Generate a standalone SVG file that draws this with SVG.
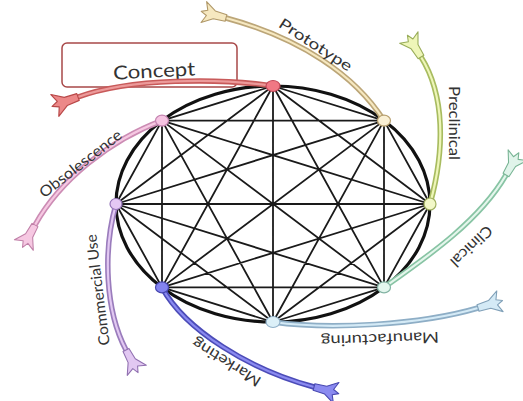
<svg xmlns="http://www.w3.org/2000/svg" xmlns:xlink="http://www.w3.org/1999/xlink" width="523" height="401" viewBox="0 0 523 401">
<style>
.chord{stroke:#1a1a1a;stroke-width:1.8;fill:none}
.rim{stroke:#111;stroke-width:3.2;fill:none}
.out{fill:none;stroke-width:5.5;stroke-linecap:round}
.in{fill:none;stroke-width:2.2;stroke-linecap:round}
.fl{stroke-width:0.8;stroke-linejoin:round}
.nd{stroke-width:1.2}
.lbl{font-family:"Lato","Open Sans",sans-serif;font-size:15px;fill:#333;text-anchor:middle;dominant-baseline:central}
</style>
<defs>
<path id="fl" d="M0,-2.5 L9,-3 L17,-8 L14.5,-2 L19,0 L14.5,2 L17,8 L9,3 L0,2.5 Z"/>
</defs>
<rect width="523" height="401" fill="#fff"/>
<g id="connectors">
<ellipse class="rim" cx="273" cy="204" rx="157" ry="118"/>
<path class="chord" d="M273,86L384,120.6M273,86L430,204M273,86L384,287.4M273,86L273,322M273,86L162,287.4M273,86L116,204M273,86L162,120.6
M384,120.6L430,204M384,120.6L384,287.4M384,120.6L273,322M384,120.6L162,287.4M384,120.6L116,204M384,120.6L162,120.6
M430,204L384,287.4M430,204L273,322M430,204L162,287.4M430,204L116,204M430,204L162,120.6
M384,287.4L273,322M384,287.4L162,287.4M384,287.4L116,204M384,287.4L162,120.6
M273,322L162,287.4M273,322L116,204M273,322L162,120.6
M162,287.4L116,204M162,287.4L162,120.6
M116,204L162,120.6"/>
</g>
<g id="concept">
<rect x="62" y="43" width="175" height="44" rx="5" fill="none" stroke="#a84848" stroke-width="1.5"/>
<text class="lbl" x="154" y="70" textLength="82" lengthAdjust="spacingAndGlyphs" transform="rotate(-3 154 70)" style="font-size:19px">Concept</text>
<path class="out" stroke="#c85a5a" d="M273,86 C220,78 130,78 78,97"/>
<path class="in" stroke="#ec9a9a" d="M273,86 C220,78 130,78 78,97"/>
<use href="#fl" class="fl" fill="#ec8888" stroke="#b84848" transform="translate(78,97) rotate(160) scale(1.45)"/>
<ellipse class="nd" cx="273" cy="86" rx="7" ry="5.5" fill="#f07884" stroke="#c04858"/>
</g>
<g id="prototype">
<path class="out" stroke="#bca678" d="M384,120.6 C355,75 300,38 226,18"/>
<path class="in" stroke="#f6e8c0" d="M384,120.6 C355,75 300,38 226,18"/>
<use href="#fl" class="fl" fill="#f6e8c0" stroke="#b09868" transform="translate(226,18) rotate(195) scale(1.35)"/>
<ellipse class="nd" cx="384" cy="120.6" rx="6.5" ry="5.5" fill="#faf0d4" stroke="#b8a070"/>
<text class="lbl" x="316" y="44" textLength="84" lengthAdjust="spacingAndGlyphs" transform="rotate(33 316 44)">Prototype</text>
</g>
<g id="preclinical">
<path class="out" stroke="#a8bc60" d="M430,204 C445,150 445,95 421,57"/>
<path class="in" stroke="#eef6b8" d="M430,204 C445,150 445,95 421,57"/>
<use href="#fl" class="fl" fill="#eef6b8" stroke="#98ac58" transform="translate(421,57) rotate(-122) scale(1.35)"/>
<ellipse class="nd" cx="430" cy="204" rx="6" ry="6" fill="#f2f8c8" stroke="#a0b060"/>
<text class="lbl" x="455" y="123" textLength="74" lengthAdjust="spacingAndGlyphs" transform="rotate(90 455 123)">Preclinical</text>
</g>
<g id="clinical">
<path class="out" stroke="#88c4a4" d="M384,287.4 C430,255 480,220 506,175"/>
<path class="in" stroke="#e4f6ec" d="M384,287.4 C430,255 480,220 506,175"/>
<use href="#fl" class="fl" fill="#e0f4ea" stroke="#78b494" transform="translate(506,175) rotate(-60) scale(1.35)"/>
<ellipse class="nd" cx="384" cy="287.4" rx="6.5" ry="5.5" fill="#e4f6ee" stroke="#84b4a4"/>
<text class="lbl" x="472" y="247" textLength="52" lengthAdjust="spacingAndGlyphs" transform="rotate(136 472 247)">Clinical</text>
</g>
<g id="manufacturing">
<path class="out" stroke="#8eaec6" d="M273,322 C330,330 420,325 478,308"/>
<path class="in" stroke="#d4eaf6" d="M273,322 C330,330 420,325 478,308"/>
<use href="#fl" class="fl" fill="#d4eaf6" stroke="#80a0b8" transform="translate(478,308) rotate(-17) scale(1.35)"/>
<ellipse class="nd" cx="273" cy="322" rx="7" ry="5.5" fill="#dcf0f8" stroke="#90b0c8"/>
<text class="lbl" x="380" y="340" textLength="118" lengthAdjust="spacingAndGlyphs" transform="rotate(178 380 340)">Manufacturing</text>
</g>
<g id="marketing">
<path class="out" stroke="#4c4cb8" d="M162,287.4 C185,330 250,370 314,387"/>
<path class="in" stroke="#8a8af0" d="M162,287.4 C185,330 250,370 314,387"/>
<use href="#fl" class="fl" fill="#8a8af0" stroke="#4848b0" transform="translate(314,387) rotate(15) scale(1.35)"/>
<ellipse class="nd" cx="162" cy="287.4" rx="6.5" ry="5.5" fill="#8484f0" stroke="#4848b0"/>
<text class="lbl" x="226" y="363" textLength="78" lengthAdjust="spacingAndGlyphs" transform="rotate(-148 226 363)">Marketing</text>
</g>
<g id="commercial-use">
<path class="out" stroke="#9a7cbc" d="M116,204 C103,250 105,310 126,350"/>
<path class="in" stroke="#e2c8f2" d="M116,204 C103,250 105,310 126,350"/>
<use href="#fl" class="fl" fill="#e2c8f2" stroke="#9070b0" transform="translate(126,350) rotate(62) scale(1.35)"/>
<ellipse class="nd" cx="116" cy="204" rx="6" ry="5.5" fill="#e4c8f4" stroke="#9474b8"/>
<text class="lbl" x="97" y="290" textLength="112" lengthAdjust="spacingAndGlyphs" transform="rotate(-97 97 290)">Commercial Use</text>
</g>
<g id="obsolescence">
<path class="out" stroke="#cc8cb4" d="M162,120.6 C110,140 60,180 35,225"/>
<path class="in" stroke="#f6c8e2" d="M162,120.6 C110,140 60,180 35,225"/>
<use href="#fl" class="fl" fill="#f6c8e2" stroke="#c080a8" transform="translate(35,225) rotate(119) scale(1.35)"/>
<ellipse class="nd" cx="162" cy="120.6" rx="6.5" ry="5.5" fill="#f6c4e2" stroke="#c484b0"/>
<text class="lbl" x="80" y="163" textLength="100" lengthAdjust="spacingAndGlyphs" transform="rotate(-38 80 163)">Obsolescence</text>
</g>
</svg>
